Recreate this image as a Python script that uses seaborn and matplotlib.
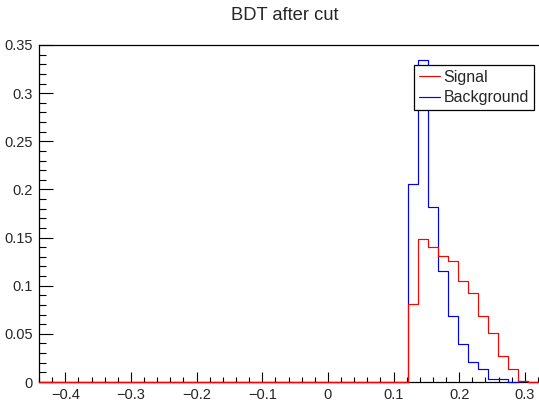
import numpy as np
import pandas as pd
import matplotlib
matplotlib.use("Agg")
import matplotlib.pyplot as plt
from matplotlib.ticker import MultipleLocator, FuncFormatter
import seaborn as sns

# Histogram layout: 50 bins over the BDT response range
x_min, x_max, n_bins = -0.44, 0.32, 50

# Normalised bin contents (bins 0..49); only the upper bins are populated
signal = [0.0] * 37 + [0.081, 0.149, 0.140, 0.131, 0.126, 0.105, 0.092,
                       0.0685, 0.0505, 0.027, 0.0135, 0.0008, 0.0003]
background = [0.0] * 37 + [0.206, 0.334, 0.182, 0.115, 0.069, 0.039, 0.021,
                           0.0135, 0.0032, 0.0032, 0.0, 0.001, 0.0]

title = "BDT after cut"
labels = ["Signal", "Background"]
colors = {"Signal": "#ff0000", "Background": "#0000ff"}

edges = np.linspace(x_min, x_max, n_bins + 1)
centers = 0.5 * (edges[:-1] + edges[1:])
df = pd.DataFrame({
    "bdt": np.concatenate([centers, centers]),
    "w": np.concatenate([background, signal]),
    "sample": ["Background"] * n_bins + ["Signal"] * n_bins,
})

sns.set_style("white")
plt.rcParams["font.family"] = ["Liberation Sans", "DejaVu Sans"]

fig = plt.figure(figsize=(5.39, 4.01), dpi=100)
ax = fig.add_axes([39 / 539, 19 / 401, 499 / 539, 337 / 401])

for name in ["Background", "Signal"]:
    sub = df[df["sample"] == name]
    sns.histplot(data=sub, x="bdt", weights="w", bins=n_bins,
                 binrange=(x_min, x_max), element="step",
                 fill=False, color=colors[name], linewidth=0.85, ax=ax,
                 label=name)

# keep the zero-level outline fully visible on top of the axis line
for line in ax.get_lines():
    line.set_clip_on(False)
    line.set_zorder(3)

ax.set_xlim(x_min, x_max)
ax.set_ylim(0, 0.35)
ax.set_xlabel("")
ax.set_ylabel("")

def fmt(v, _pos):
    if abs(v) < 1e-9:
        return "0"
    return f"{v:g}".replace("-", "\u2212")

ax.xaxis.set_major_locator(MultipleLocator(0.1))
ax.xaxis.set_minor_locator(MultipleLocator(0.02))
ax.yaxis.set_major_locator(MultipleLocator(0.05))
ax.yaxis.set_minor_locator(MultipleLocator(0.01))
ax.xaxis.set_major_formatter(FuncFormatter(fmt))
ax.yaxis.set_major_formatter(FuncFormatter(fmt))

ax.tick_params(axis="x", which="major", direction="in", length=7.2, width=0.8,
               labelsize=10.5, pad=4, color="black", bottom=True, top=False)
ax.tick_params(axis="x", which="minor", direction="in", length=3.6, width=0.8,
               bottom=True, top=False, color="black")
ax.tick_params(axis="y", which="major", direction="in", length=10, width=0.8,
               labelsize=10.5, pad=4.3, color="black", left=True, right=False)
ax.tick_params(axis="y", which="minor", direction="in", length=5, width=0.8,
               left=True, right=False, color="black")

for side in ["left", "top", "bottom"]:
    ax.spines[side].set_visible(True)
    ax.spines[side].set_color("black")
    ax.spines[side].set_linewidth(0.9)
ax.spines["right"].set_visible(False)

handles, hlabels = ax.get_legend_handles_labels()
order = [hlabels.index(l) for l in labels]
leg = ax.legend([handles[i] for i in order], labels, loc="upper left",
                bbox_to_anchor=(0.7515, 0.9407), borderaxespad=0,
                frameon=True, fancybox=False, edgecolor="black",
                framealpha=1, fontsize=11.5, handlelength=1.31,
                handletextpad=0.25, borderpad=0.3, labelspacing=0.35)
leg.get_frame().set_linewidth(0.9)
leg.set_zorder(5)

fig.text(0.529, 1 - 15 / 401, title, ha="center", va="center", fontsize=13.2)

fig.savefig("out.png", dpi=100)
